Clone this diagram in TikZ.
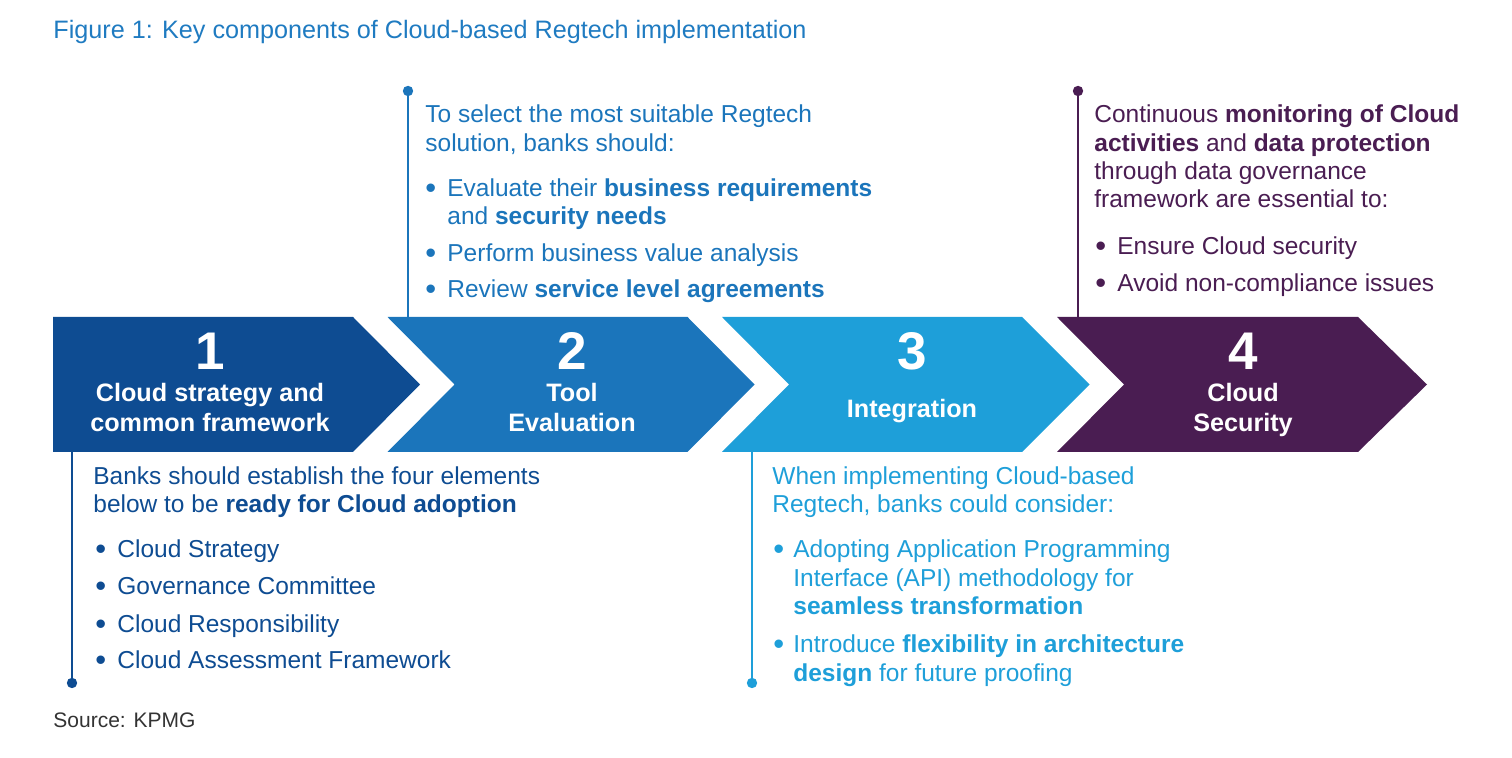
\documentclass[tikz,border=0pt]{standalone}
\usepackage{fontspec}
\setmainfont{Liberation Sans}
\definecolor{cA}{HTML}{0E4C92}
\definecolor{cB}{HTML}{1B75BB}
\definecolor{cC}{HTML}{1E9FD9}
\definecolor{cD}{HTML}{4A1D52}
\definecolor{cT}{HTML}{1F7BC1}
\definecolor{cS}{HTML}{333333}
\tikzset{
 txt/.style={anchor=base west, inner sep=0pt, font=\fontsize{12.25}{14.5}\selectfont},
 num/.style={anchor=base, inner sep=0pt, text=white, font=\bfseries\fontsize{26.5}{26.5}\selectfont},
 lab/.style={anchor=base, inner sep=0pt, text=white, font=\bfseries\fontsize{12.6}{15}\selectfont},
 stem/.style={line width=1.3pt},
 dotm/.style={circle, fill, inner sep=0pt, minimum size=5.2pt}
}
\newcommand\TL[4]{\node[txt] (#1) at (#2,#3) {#4};}
\newcommand\BL[5]{\node[txt] (#1b) at (#2,#4) {\raisebox{-0.9pt}{\fontsize{15.5}{15.5}\selectfont •}};\node[txt] (#1) at (#3,#4) {#5};}
\begin{document}
\begin{tikzpicture}[x=0.5pt,y=-0.5pt]
\useasboundingbox (0,0) rectangle (1512,758);
% title
\node[txt, text=cT, font=\fontsize{12.6}{15}\selectfont] (title) at (53,39) {Figure 1: Key components of Cloud-based Regtech implementation};
% chevrons
\fill[cA] (53,317) -- (353,317) -- (420,384.5) -- (353,452) -- (53,452) -- cycle;
\fill[cB] (387.5,317) -- (687.5,317) -- (754.5,384.5) -- (687.5,452) -- (387.5,452) -- (454.5,384.5) -- cycle;
\fill[cC] (722,317) -- (1022,317) -- (1089.5,384.5) -- (1022,452) -- (722,452) -- (789,384.5) -- cycle;
\fill[cD] (1057,317) -- (1358,317) -- (1427,384.5) -- (1358,452) -- (1057,452) -- (1124,384.5) -- cycle;
% chevron labels
\node[num] (n1) at (210,370) {1};
\node[lab] (l1a) at (210,402) {Cloud strategy and};
\node[lab] (l1b) at (210,432) {common framework};
\node[num] (n2) at (572,370) {2};
\node[lab] (l2a) at (572,402) {Tool};
\node[lab] (l2b) at (572,432) {Evaluation};
\node[num] (n3) at (912,370) {3};
\node[lab] (l3a) at (912,418) {Integration};
\node[num] (n4) at (1243,370) {4};
\node[lab] (l4a) at (1243,402) {Cloud};
\node[lab] (l4b) at (1243,432) {Security};
% stems
\coordinate (s1top) at (72,452);
\node[dotm, cA] (d1) at (72,683) {};
\draw[stem, cA] (s1top) -- (d1.center);
\node[dotm, cB] (d2) at (408,91) {};
\coordinate (s2bot) at (408,317);
\draw[stem, cB] (d2.center) -- (s2bot);
\coordinate (s3top) at (752,452);
\node[dotm, cC] (d3) at (752,683) {};
\draw[stem, cC] (s3top) -- (d3.center);
\node[dotm, cD] (d4) at (1078,91) {};
\coordinate (s4bot) at (1078,317);
\draw[stem, cD] (d4.center) -- (s4bot);
% block 2
\begin{scope}[every node/.append style={text=cB}]
\TL{t2a}{425}{123}{To select the most suitable Regtech}
\TL{t2b}{425}{152}{solution, banks should:}
\BL{t2c}{425}{447}{197}{Evaluate their \textbf{business requirements}}
\TL{t2d}{447}{225}{and \textbf{security needs}}
\BL{t2e}{425}{447}{262}{Perform business value analysis}
\BL{t2f}{425}{447}{298}{Review \textbf{service level agreements}}
\end{scope}
% block 4
\begin{scope}[every node/.append style={text=cD}]
\TL{t4a}{1094}{123}{Continuous \textbf{monitoring of Cloud}}
\TL{t4b}{1094}{152}{\textbf{activities} and \textbf{data protection}}
\TL{t4c}{1094}{180}{through data governance}
\TL{t4d}{1094}{208}{framework are essential to:}
\BL{t4e}{1095}{1117}{255}{Ensure Cloud security}
\BL{t4f}{1095}{1117}{292}{Avoid non-compliance issues}
\end{scope}
% block 1
\begin{scope}[every node/.append style={text=cA}]
\TL{t1a}{93}{485}{Banks should establish the four elements}
\TL{t1b}{93}{513}{below to be \textbf{ready for Cloud adoption}}
\BL{t1c}{95}{117}{558}{Cloud Strategy}
\BL{t1d}{95}{117}{595}{Governance Committee}
\BL{t1e}{95}{117}{633}{Cloud Responsibility}
\BL{t1f}{95}{117}{669}{Cloud Assessment Framework}
\end{scope}
% block 3
\begin{scope}[every node/.append style={text=cC}]
\TL{t3a}{772}{485}{When implementing Cloud-based}
\TL{t3b}{772}{513}{Regtech, banks could consider:}
\BL{t3c}{773}{793}{558}{Adopting Application Programming}
\TL{t3d}{793}{587}{Interface (API) methodology for}
\TL{t3e}{793}{615}{\textbf{seamless transformation}}
\BL{t3f}{773}{793}{653}{Introduce \textbf{flexibility in architecture}}
\TL{t3g}{793}{682}{\textbf{design} for future proofing}
\end{scope}
% source
\node[txt, text=cS, font=\fontsize{10.5}{12}\selectfont] (src) at (53,728) {Source: KPMG};
\end{tikzpicture}
\end{document}
